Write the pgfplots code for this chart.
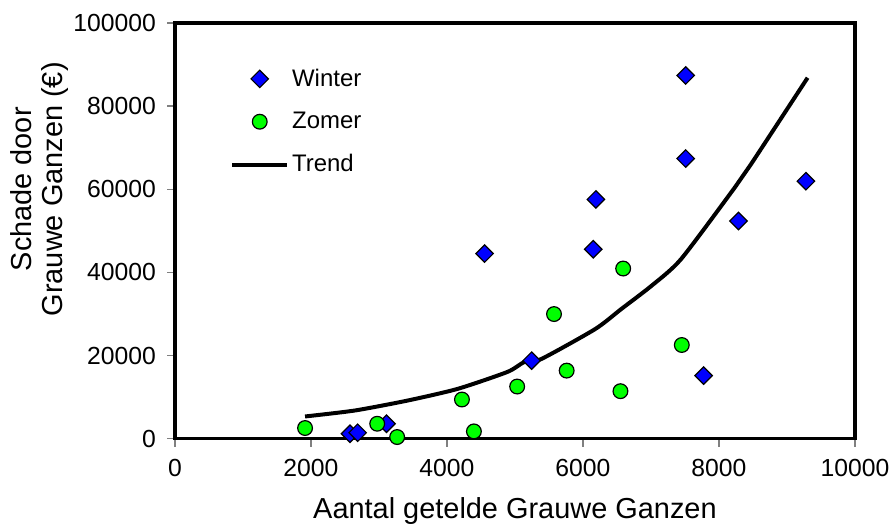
\documentclass[border=0pt]{standalone}
\usepackage{pgfplots}
\pgfplotsset{compat=1.18}
\usepackage{fontspec}
\setmainfont{Liberation Sans}
\definecolor{wblue}{RGB}{0,0,255}
\definecolor{zgreen}{RGB}{0,255,0}
\pgfplotsset{
  markleg/.style={legend image code/.code={\draw[mark repeat=2,mark phase=2,##1] plot coordinates {(0pt,0pt)(13.75pt,0pt)(27.5pt,0pt)};}},
  lineleg/.style={legend image code/.code={\draw[##1] (0pt,0pt) -- (27.5pt,0pt);}},
}
\begin{document}
\begin{tikzpicture}
\begin{axis}[
  scale only axis, width=341pt, height=208.5pt,
  xmin=0, xmax=10000, ymin=0, ymax=100000,
  xtick={0,2000,4000,6000,8000,10000},
  ytick={0,20000,40000,60000,80000,100000},
  scaled ticks=false,
  /pgf/number format/fixed,
  /pgf/number format/1000 sep={},
  /pgf/number format/assume math mode=true,
  tick pos=left,
  tick align=outside,
  major tick length=4pt,
  tick style={gray, line width=0.6pt},
  axis line style={line width=1.6pt},
  tick label style={font=\fontsize{12.4}{14}\selectfont},
  xticklabel style={yshift=-3pt},
  yticklabel style={xshift=-2pt},
  xlabel={Aantal getelde Grauwe Ganzen},
  ylabel={Schade door\\Grauwe Ganzen (€)},
  label style={font=\fontsize{14.5}{15.5}\selectfont},
  xlabel style={at={(axis description cs:0.5,0)}, anchor=base, yshift=-40pt},
  ylabel style={at={(axis description cs:-0.1986,0.6)}, anchor=center, align=center},
  legend style={draw=none, fill=none, at={(axis description cs:0.072,0.91)}, anchor=north west,
    font=\fontsize{12}{14}\selectfont, row sep=7.5pt, column sep=0pt,
    nodes={inner xsep=1.5pt}},
  legend cell align=left,
]
\addlegendimage{only marks, mark=square*, mark size=3.1pt, mark options={rotate=45, fill=wblue, draw=black, line width=0.6pt}, markleg}
\addlegendentry{Winter}
\addlegendimage{only marks, mark=*, mark size=3.7pt, mark options={fill=zgreen, draw=black, line width=0.6pt}, markleg}
\addlegendentry{Zomer}
\addlegendimage{black, line width=2pt, lineleg}
\addlegendentry{Trend}

% Trend
\addplot[black, line width=2pt, smooth, tension=0.4, forget plot] coordinates {
(1913,5350) (2647,6790) (3424,9190) (4157,11990) (4890,16070) (5139,18470)
(5388,19180) (6180,26380) (6562,31180) (7001,36690) (7441,43170)
(8233,60430) (8468,65950) (9303,86810)};

% Winter
\addplot[only marks, mark=square*, mark size=3.1pt, mark options={rotate=45, fill=wblue, draw=black, line width=0.6pt}, forget plot] coordinates {
(2573,1200) (2686,1440) (3111,3600) (4553,44530) (5246,18780) (6151,45560)
(6190,57550) (7510,67390) (7510,87360) (7774,15190) (8287,52350) (9279,61940)};

% Zomer
\addplot[only marks, mark=*, mark size=3.7pt, mark options={fill=zgreen, draw=black, line width=0.6pt}, forget plot] coordinates {
(1913,2570) (2974,3600) (3267,400) (4220,9430) (4396,1760) (5032,12550)
(5574,29980) (5760,16380) (6551,11430) (6591,40930) (7453,22540)};
\end{axis}
\path[use as bounding box] (-87.75pt,-46pt) rectangle (360.25pt,220pt);
\end{tikzpicture}
\end{document}
